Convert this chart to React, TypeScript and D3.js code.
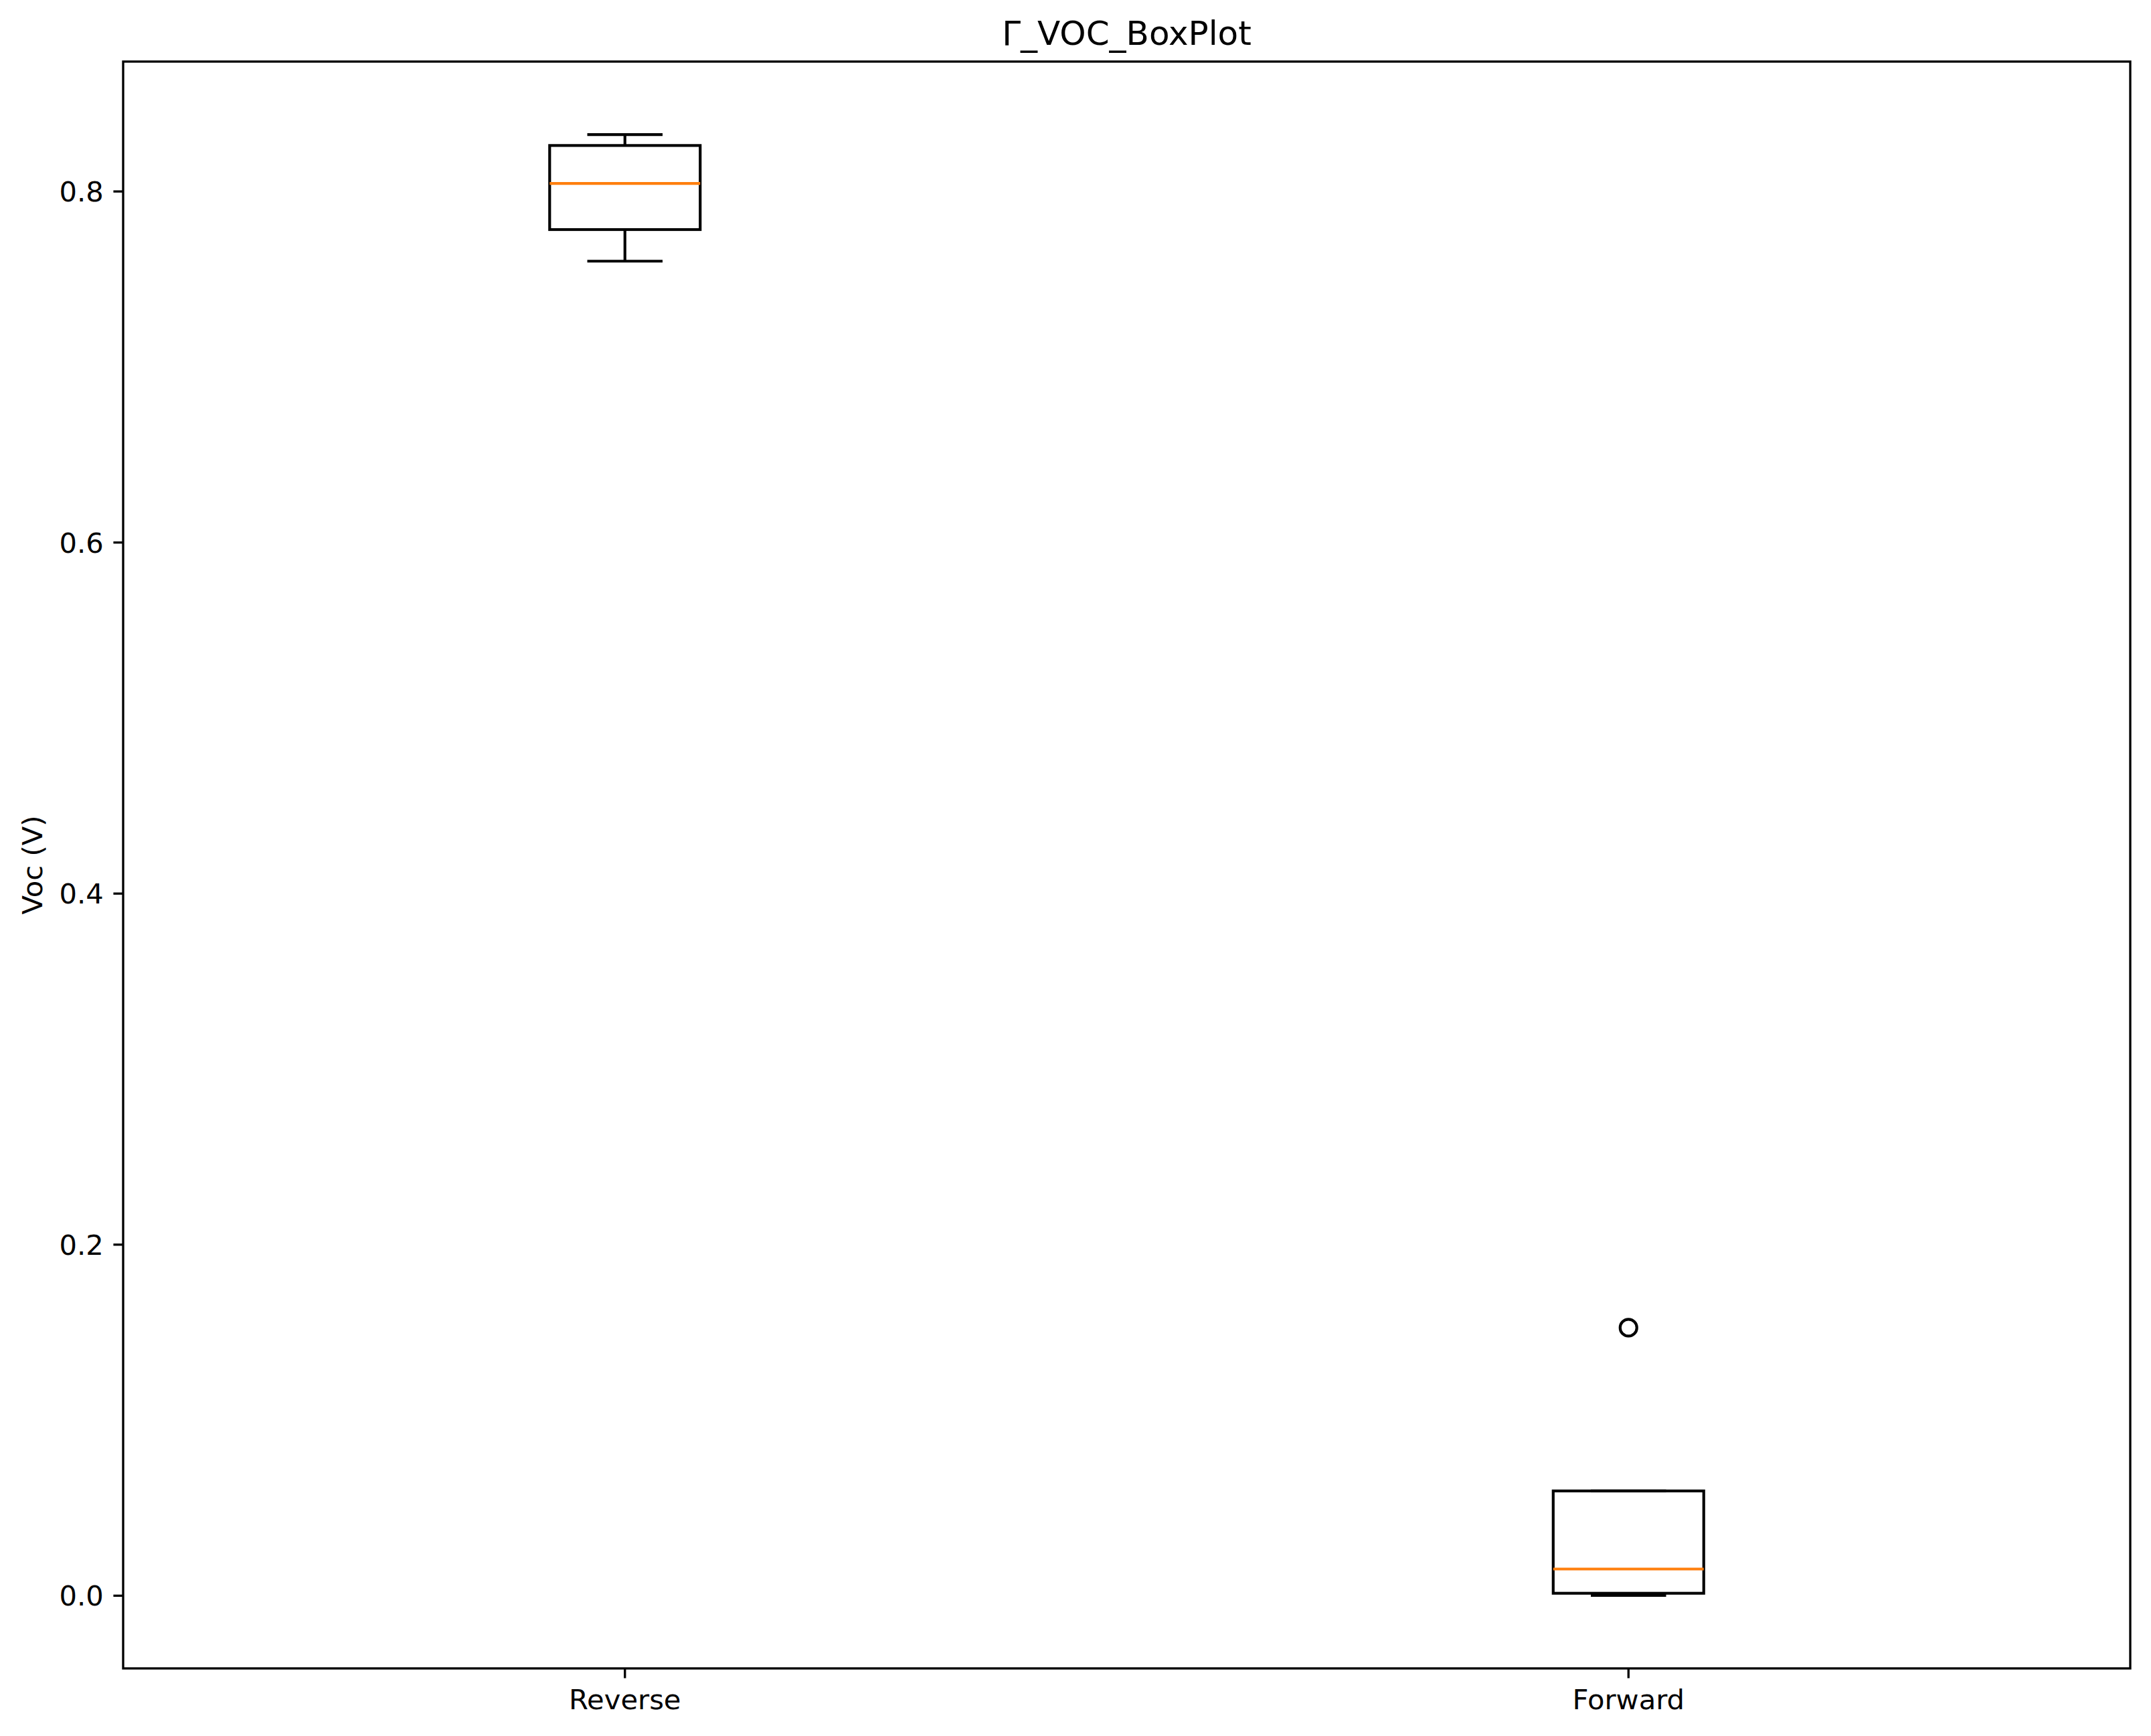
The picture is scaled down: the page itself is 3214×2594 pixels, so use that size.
import React, { useEffect, useRef } from 'react'
import { select, scaleLinear, scaleBand, axisLeft, axisBottom, min, max } from 'd3'

// values
const categories = ['Reverse', 'Forward']
const whiskerLow = [0.7601, 0.0]
const q1 = [0.7781, 0.0012]
const medians = [0.8044, 0.0150]
const q3 = [0.8260, 0.0595]
const whiskerHigh = [0.8322, 0.0595]
const fliers = [[], [0.1525]]
const yTicks = [0.0, 0.2, 0.4, 0.6, 0.8]

const title = 'Γ_VOC_BoxPlot'
const yLabel = 'Voc (V)'

const App = () => {
    const container = useRef(null)

    useEffect(() => {
        const config = {
            width: 3214,
            height: 2594,
            margins: { t: 92, b: 101, l: 184, r: 31 },
            lw: 4.17,
            spine: 3.33,
            tickLen: 14.58,
            fontSize: 41.67,
            titleSize: 50,
            font: 'DejaVu Sans',
        }
        const plotwidth = config.width - config.margins.l - config.margins.r
        const plotheight = config.height - config.margins.t - config.margins.b

        const svg = select(container.current).selectAll('svg').data([0]).join('svg')
            .attr('width', config.width).attr('height', config.height)
            .style('position', 'absolute').style('left', 0).style('top', 0)
            .style('background', '#ffffff')
        svg.selectAll('*').remove()

        const g = svg.append('g')
            .attr('transform', `translate(${config.margins.l}, ${config.margins.t})`)

        // matplotlib style 5% autoscale padding
        const allVals = [...whiskerLow, ...whiskerHigh, ...fliers.flat()]
        const lo = min(allVals), hi = max(allVals)
        const pad = (hi - lo) * 0.05
        const yScale = scaleLinear().domain([lo - pad, hi + pad]).range([plotheight, 0])

        // positions 1..n with xlim 0.5..n+0.5
        const xScale = scaleBand().domain(categories).range([0, plotwidth]).padding(0)
        const boxW = xScale.bandwidth() * 0.15
        const capW = boxW / 2

        const data = categories.map((c, i) => ({
            key: c, lo: whiskerLow[i], q1: q1[i], med: medians[i], q3: q3[i], hi: whiskerHigh[i], fliers: fliers[i]
        }))

        const boxes = g.selectAll('.box').data(data).join('g').attr('class', 'box')
            .attr('transform', (d) => `translate(${xScale(d.key) + xScale.bandwidth() / 2}, 0)`)

        // whiskers
        boxes.append('line')
            .attr('x1', 0).attr('x2', 0)
            .attr('y1', (d) => yScale(d.q1)).attr('y2', (d) => yScale(d.lo))
            .attr('stroke', '#000').attr('stroke-width', config.lw)
        boxes.append('line')
            .attr('x1', 0).attr('x2', 0)
            .attr('y1', (d) => yScale(d.q3)).attr('y2', (d) => yScale(d.hi))
            .attr('stroke', '#000').attr('stroke-width', config.lw)
        // caps
        boxes.append('line')
            .attr('x1', -capW / 2).attr('x2', capW / 2)
            .attr('y1', (d) => yScale(d.lo)).attr('y2', (d) => yScale(d.lo))
            .attr('stroke', '#000').attr('stroke-width', config.lw)
        boxes.append('line')
            .attr('x1', -capW / 2).attr('x2', capW / 2)
            .attr('y1', (d) => yScale(d.hi)).attr('y2', (d) => yScale(d.hi))
            .attr('stroke', '#000').attr('stroke-width', config.lw)
        // box
        boxes.append('rect')
            .attr('x', -boxW / 2).attr('width', boxW)
            .attr('y', (d) => yScale(d.q3))
            .attr('height', (d) => yScale(d.q1) - yScale(d.q3))
            .attr('fill', 'none').attr('stroke', '#000').attr('stroke-width', config.lw)
            .attr('stroke-linejoin', 'miter')
        // median
        boxes.append('line')
            .attr('x1', -boxW / 2).attr('x2', boxW / 2)
            .attr('y1', (d) => yScale(d.med)).attr('y2', (d) => yScale(d.med))
            .attr('stroke', '#ff7f0e').attr('stroke-width', config.lw)
        // fliers
        boxes.selectAll('circle').data((d) => d.fliers).join('circle')
            .attr('cx', 0).attr('cy', (d) => yScale(d)).attr('r', 12.5)
            .attr('fill', 'none').attr('stroke', '#000').attr('stroke-width', config.lw)

        // axes
        const yaxis = g.append('g')
            .call(axisLeft(yScale).tickValues(yTicks).tickFormat((d) => d.toFixed(1))
                .tickSize(config.tickLen).tickPadding(config.tickLen))
        yaxis.select('.domain').remove()
        yaxis.selectAll('.tick line').attr('stroke-width', config.spine)
        yaxis.selectAll('.tick text')
            .attr('font-family', config.font).attr('font-size', config.fontSize)
            .attr('fill', '#000').attr('dy', '0.36em')

        const xaxis = g.append('g').attr('transform', `translate(0, ${plotheight})`)
            .call(axisBottom(xScale).tickSize(config.tickLen).tickPadding(config.tickLen))
        xaxis.select('.domain').remove()
        xaxis.selectAll('.tick line').attr('stroke-width', config.spine)
        xaxis.selectAll('.tick text')
            .attr('font-family', config.font).attr('font-size', config.fontSize)
            .attr('fill', '#000').attr('dy', '0.76em')

        // frame
        g.append('rect')
            .attr('x', 0).attr('y', 0).attr('width', plotwidth).attr('height', plotheight)
            .attr('fill', 'none').attr('stroke', '#000').attr('stroke-width', config.spine)

        svg.append('text')
            .attr('x', config.margins.l + plotwidth / 2).attr('y', config.margins.t - 25)
            .attr('text-anchor', 'middle')
            .attr('font-family', config.font).attr('font-size', config.titleSize)
            .text(title)

        svg.append('text')
            .attr('transform', `translate(63, ${config.margins.t + plotheight / 2}) rotate(-90)`)
            .attr('text-anchor', 'middle')
            .attr('font-family', config.font).attr('font-size', config.fontSize)
            .text(yLabel)
    }, [])

    return <div className='box-container' ref={container}></div>
}

export default App
